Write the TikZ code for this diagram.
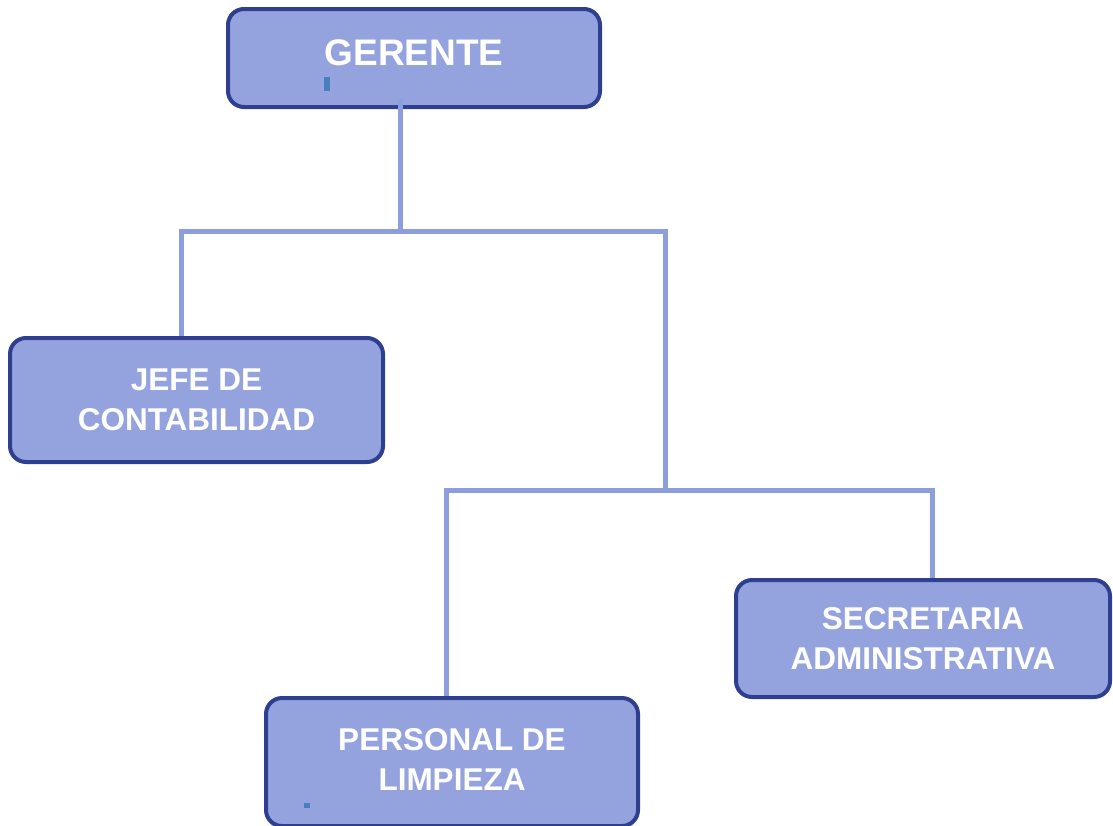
\documentclass[tikz,border=0pt]{standalone}
\usepackage{fontspec}
\setmainfont{Liberation Sans}
\definecolor{boxfill}{RGB}{148,163,222}
\definecolor{boxline}{RGB}{46,63,143}
\definecolor{connline}{RGB}{140,158,222}
\definecolor{markblue}{RGB}{74,127,191}
\begin{document}
\begin{tikzpicture}[x=1pt,y=-1pt,
  orgbox/.style={draw=boxline, line width=4pt, fill=boxfill, rounded corners=16pt,
    text=white, font=\bfseries\fontsize{31.5}{40}\selectfont, align=center, inner sep=0pt},
  conn/.style={draw=connline, line width=5pt}]
\useasboundingbox (0,0) rectangle (1113,825);
% boxes
\node[orgbox, minimum width=372pt, minimum height=98pt,
  font=\bfseries\fontsize{37}{44}\selectfont] (ger) at (414,58) {\raisebox{11pt}{GERENTE}};
\node[orgbox, minimum width=373pt, minimum height=124pt] (jefe) at (196.5,400) {JEFE DE\\CONTABILIDAD};
\node[orgbox, minimum width=374pt, minimum height=117pt] (sec) at (923,638.5) {SECRETARIA\\ADMINISTRATIVA};
\node[orgbox, minimum width=372pt, minimum height=128pt] (pers) at (452,762) {\raisebox{4pt}{\begin{tabular}{c}PERSONAL DE\\LIMPIEZA\end{tabular}}};
% small marks
\fill[markblue] (324,77) rectangle (330,91);
\fill[markblue] (304,803) rectangle (310,808);
% junctions
\coordinate (j1) at (400,231);
\coordinate (j2) at (665,232);
\coordinate (j3) at (665,490);
\coordinate (j4) at (446,490);
\coordinate (j5) at (932,490);
% connectors
\draw[conn] ([yshift=10pt]j1 |- ger.south) -- (j1);
\draw[conn] (jefe.north -| 181,0) |- (j1);
\draw[conn] (j1) -- (j1 -| j2) |- (j2);
\draw[conn, line cap=rect] (j2) -- (j3);
\draw[conn] (j4 |- pers.north) -- (j4) -- (j5) -- (j5 |- sec.north);
\end{tikzpicture}
\end{document}
